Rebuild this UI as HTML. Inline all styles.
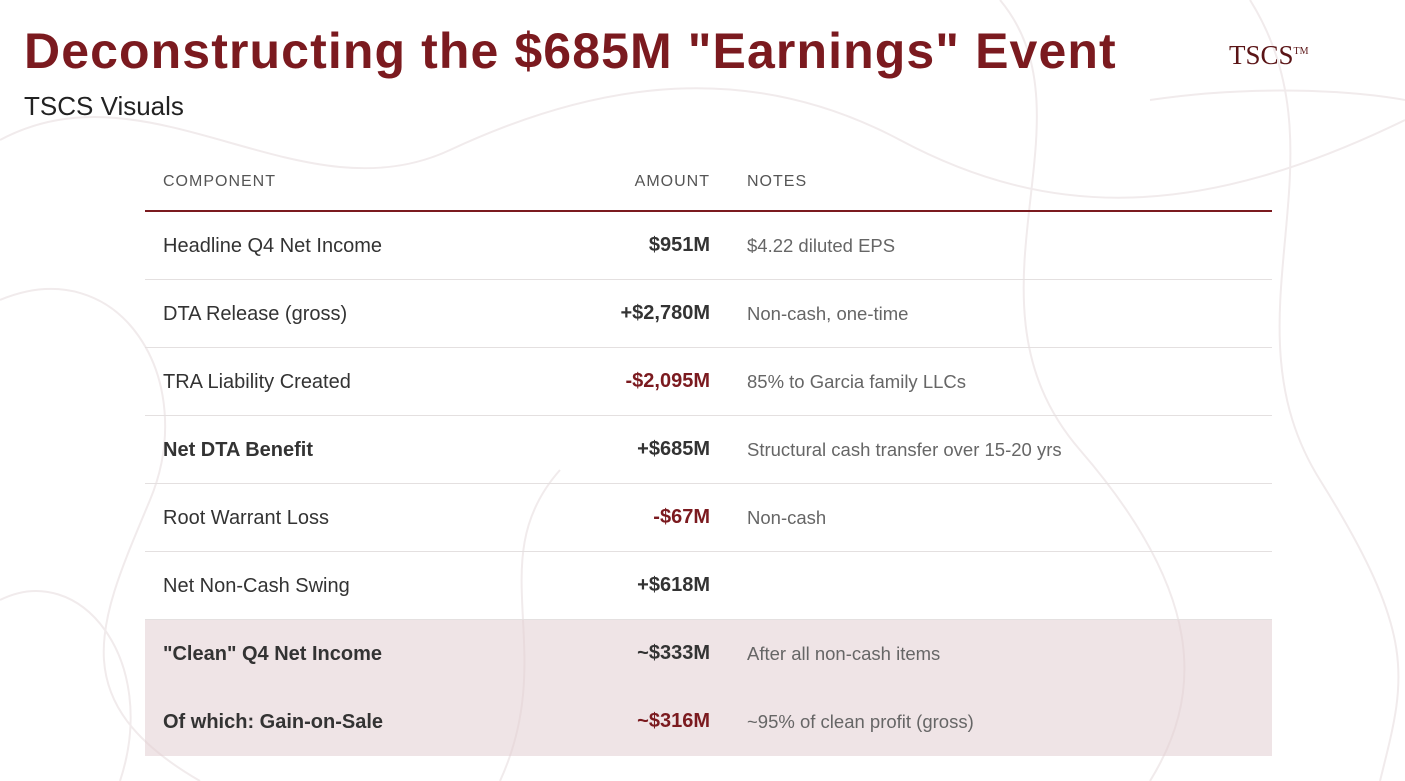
<!DOCTYPE html>
<html><head><meta charset="utf-8"><style>
*{margin:0;padding:0;box-sizing:border-box}
body{width:1405px;height:781px;background:#fff;position:relative;overflow:hidden;font-family:"Liberation Sans",sans-serif}
.abs{position:absolute;white-space:nowrap}
#title{left:24px;top:22px;font-size:50px;font-weight:bold;color:#7b1a1f;letter-spacing:1.1px}
#sub{left:24px;top:91px;font-size:26px;color:#222}
#logo{left:1229px;top:40px;font-family:"Liberation Serif",serif;font-size:27px;color:#5a1416}
#logo sup{font-size:10px;vertical-align:10px}
.hdr{top:173px;font-size:16px;color:#555;letter-spacing:1px}
.row{position:absolute;left:145px;width:1127px;height:68px;border-bottom:1px solid #e4e0e0}
.row.hl{background:rgba(225,205,210,0.55);border-bottom:none}
.c1,.c2,.c3{position:absolute;top:23px;font-size:19px;color:#333}
.c1{left:18px;font-size:20px}
.c2{right:562px;font-weight:bold;color:#333;font-size:20px;top:22px}
.c2.neg{color:#7b1a1f}
.c3{left:602px;color:#666;font-size:18.5px}
.b{font-weight:bold}
</style></head><body>
<svg class="abs" style="left:0;top:0" width="1405" height="781">
<g fill="none" stroke="#f1ebec" stroke-width="2">
<path d="M0,140 C150,60 300,220 450,150 S750,60 900,140 S1200,220 1405,120"/>
<path d="M0,300 C120,250 200,380 150,500 S60,700 200,781"/>
<path d="M1000,0 C1100,120 950,300 1080,450 S1200,700 1150,781"/>
<path d="M1250,0 C1350,160 1220,320 1320,480 S1405,680 1380,781"/>
<path d="M500,781 C560,650 480,560 560,470"/>
<path d="M0,600 C80,560 160,660 120,781"/>
<path d="M1150,100 C1250,85 1350,90 1405,100"/>
</g></svg>
<div id="title" class="abs">Deconstructing the $685M "Earnings" Event</div>
<div id="sub" class="abs">TSCS Visuals</div>
<div id="logo" class="abs">TSCS<sup>TM</sup></div>
<div class="abs hdr" style="left:163px">COMPONENT</div>
<div class="abs hdr" style="right:695px">AMOUNT</div>
<div class="abs hdr" style="left:747px">NOTES</div>
<div class="abs" style="left:145px;top:210px;width:1127px;height:2px;background:#7b1a1f"></div>
<div id="rows"></div>
<script>
const components=["Headline Q4 Net Income","DTA Release (gross)","TRA Liability Created","Net DTA Benefit","Root Warrant Loss","Net Non-Cash Swing","\"Clean\" Q4 Net Income","Of which: Gain-on-Sale"];
const amounts=["$951M","+$2,780M","-$2,095M","+$685M","-$67M","+$618M","~$333M","~$316M"];
const notes=["$4.22 diluted EPS","Non-cash, one-time","85% to Garcia family LLCs","Structural cash transfer over 15-20 yrs","Non-cash","","After all non-cash items","~95% of clean profit (gross)"];
const negative=[false,false,true,false,true,false,false,true];
const boldLabel=[false,false,false,true,false,false,true,true];
const highlight=[false,false,false,false,false,false,true,true];
const root=document.getElementById('rows');
components.forEach((c,i)=>{
  const r=document.createElement('div');
  r.className='row'+(highlight[i]?' hl':'');
  r.style.top=(212+i*68)+'px';
  
  
  const a=document.createElement('div');a.className='c1'+(boldLabel[i]?' b':'');a.textContent=c;
  
  
  const b=document.createElement('div');b.className='c2'+(negative[i]?' neg':'');b.textContent=amounts[i];
  
  
  const n=document.createElement('div');n.className='c3';n.textContent=notes[i];
  
  
  r.append(a,b,n);root.appendChild(r);
});
</script>
</body></html>
